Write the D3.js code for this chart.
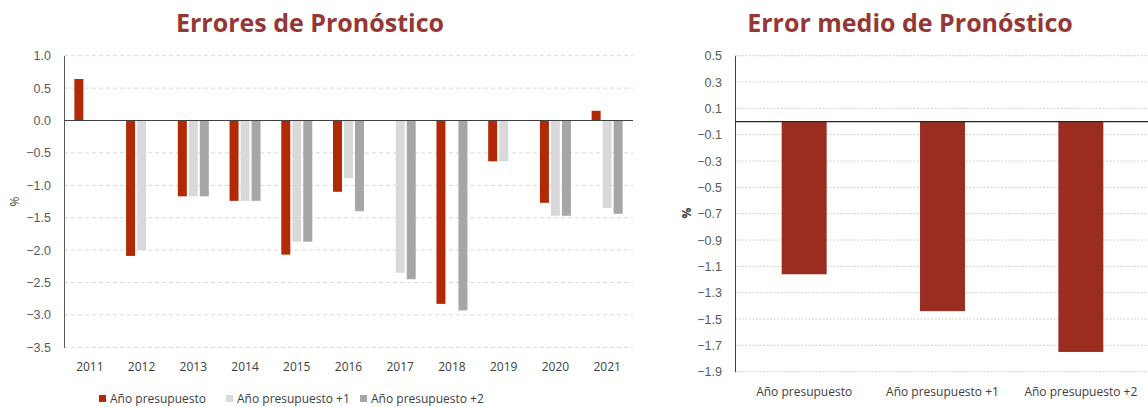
<!DOCTYPE html>
<html lang="es">
<head>
  <meta charset="UTF-8">
  <title>Errores de Pronóstico</title>
  <script src="https://cdn.jsdelivr.net/npm/d3@7"></script>
  <style>
    html, body { margin: 0; padding: 0; background: #ffffff; }
    svg { display: block; font-family: "Segoe UI", "Open Sans", sans-serif; }
    .title { fill: #953735; font-weight: bold; font-size: 25px; text-anchor: middle; }
    .tick text { fill: #595959; font-size: 12.5px; }
    .lbl { fill: #404040; font-size: 12px; }
  </style>
</head>
<body>
  <svg id="chart" width="1148" height="407"></svg>

  <script>
    // left chart data
    const years = ['2011', '2012', '2013', '2014', '2015', '2016', '2017', '2018', '2019', '2020', '2021'];
    const seriesNames = ['Año presupuesto', 'Año presupuesto +1', 'Año presupuesto +2'];
    const anoPresupuesto = [0.64, -2.09, -1.17, -1.24, -2.07, -1.10, null, -2.83, -0.63, -1.27, 0.15];
    const anoMas1 = [null, -2.00, -1.17, -1.24, -1.87, -0.89, -2.35, null, -0.63, -1.47, -1.35];
    const anoMas2 = [null, null, -1.17, -1.24, -1.87, -1.40, -2.45, -2.93, null, -1.47, -1.44];
    const leftTicks = [1.0, 0.5, 0.0, -0.5, -1.0, -1.5, -2.0, -2.5, -3.0, -3.5];

    // right chart data
    const horizons = ['Año presupuesto', 'Año presupuesto +1', 'Año presupuesto +2'];
    const errorMedio = [-1.16, -1.44, -1.75];
    const rightTicks = [0.5, 0.3, 0.1, -0.1, -0.3, -0.5, -0.7, -0.9, -1.1, -1.3, -1.5, -1.7, -1.9];

    const colors = ['#b22a05', '#d9d9d9', '#a6a6a6'];
    const svg = d3.select('#chart');
    const fmt = d3.format('.1f');

    // ---------- left: Errores de Pronóstico ----------
    const left = { x0: 64, x1: 633, y0: 55.7, y1: 347.3 };
    const x = d3.scaleBand().domain(years).range([left.x0, left.x1]);
    const xs = d3.scaleBand().domain(seriesNames)
      .range([x.bandwidth() / 2 - 15.5, x.bandwidth() / 2 + 15.5])
      .paddingInner(2 / 11);
    const y = d3.scaleLinear().domain([-3.5, 1.0]).range([left.y1, left.y0]);

    svg.append('text').attr('class', 'title')
      .attr('x', 310).attr('y', 32).text('Errores de Pronóstico');

    // grid
    svg.append('g').selectAll('line').data(leftTicks).enter().append('line')
      .attr('x1', left.x0).attr('x2', left.x1)
      .attr('y1', d => y(d)).attr('y2', d => y(d))
      .attr('stroke', '#d9d9d9').attr('stroke-dasharray', '4,3');

    const yAxisL = svg.append('g').attr('transform', `translate(${left.x0},0)`)
      .call(d3.axisLeft(y).tickValues(leftTicks).tickFormat(fmt).tickSize(0).tickPadding(13));
    yAxisL.select('.domain').attr('stroke', '#595959');

    const table = years.map((yr, i) => ({ year: yr, vals: [anoPresupuesto[i], anoMas1[i], anoMas2[i]] }));
    const groups = svg.append('g').selectAll('g').data(table).enter().append('g')
      .attr('transform', d => `translate(${x(d.year)},0)`);
    groups.selectAll('rect')
      .data(d => d.vals.map((v, k) => ({ name: seriesNames[k], v: v, k: k })).filter(e => e.v !== null))
      .enter().append('rect')
      .attr('x', d => xs(d.name))
      .attr('width', xs.bandwidth())
      .attr('y', d => y(Math.max(0, d.v)))
      .attr('height', d => Math.abs(y(d.v) - y(0)))
      .attr('fill', d => colors[d.k]);

    svg.append('line').attr('x1', left.x0).attr('x2', left.x1)
      .attr('y1', y(0)).attr('y2', y(0)).attr('stroke', '#404040').attr('stroke-width', 1.2);

    svg.append('g').selectAll('text').data(years).enter().append('text')
      .attr('class', 'lbl').attr('text-anchor', 'middle')
      .attr('x', d => x(d) + x.bandwidth() / 2).attr('y', 371)
      .text(d => d);

    svg.append('text').attr('class', 'lbl')
      .attr('transform', `translate(19,${(left.y0 + left.y1) / 2}) rotate(-90)`)
      .attr('text-anchor', 'middle').text('%');

    // legend
    const legendX = [99, 226, 360];
    const legend = svg.append('g').selectAll('g').data(seriesNames).enter().append('g')
      .attr('transform', (d, i) => `translate(${legendX[i]},395)`);
    legend.append('rect').attr('width', 7).attr('height', 7).attr('fill', (d, i) => colors[i]);
    legend.append('text').attr('class', 'lbl').attr('x', 11).attr('y', 8).text(d => d);

    // ---------- right: Error medio de Pronóstico ----------
    const right = { x0: 735, x1: 1150, y0: 55.7, y1: 371.7 };
    const x2 = d3.scaleBand().domain(horizons).range([right.x0, right.x1])
      .paddingInner(0.675).paddingOuter(0.3375);
    const y2 = d3.scaleLinear().domain([-1.9, 0.5]).range([right.y1, right.y0]);

    svg.append('text').attr('class', 'title')
      .attr('x', 910).attr('y', 32).text('Error medio de Pronóstico');

    svg.append('g').selectAll('line').data(rightTicks).enter().append('line')
      .attr('x1', right.x0).attr('x2', 1148)
      .attr('y1', d => y2(d)).attr('y2', d => y2(d))
      .attr('stroke', '#d0d0d0').attr('stroke-dasharray', '2,1.5');

    const yAxisR = svg.append('g').attr('transform', `translate(${right.x0},0)`)
      .call(d3.axisLeft(y2).tickValues(rightTicks).tickFormat(fmt).tickSize(0).tickPadding(13));
    yAxisR.select('.domain').attr('stroke', '#404040');

    svg.append('g').selectAll('rect').data(horizons).enter().append('rect')
      .attr('x', d => x2(d))
      .attr('width', x2.bandwidth())
      .attr('y', y2(0))
      .attr('height', (d, i) => y2(errorMedio[i]) - y2(0))
      .attr('fill', '#9b2c20');

    svg.append('line').attr('x1', right.x0).attr('x2', 1148)
      .attr('y1', y2(0)).attr('y2', y2(0)).attr('stroke', '#262626').attr('stroke-width', 1.2);

    svg.append('g').selectAll('text').data(horizons).enter().append('text')
      .attr('class', 'lbl').attr('text-anchor', 'middle').attr('font-size', '12.7px')
      .attr('x', d => x2(d) + x2.bandwidth() / 2).attr('y', 396)
      .text(d => d);

    svg.append('text').attr('class', 'lbl').attr('font-weight', 'bold').attr('font-size', '13px')
      .attr('transform', `translate(691,213) rotate(-90)`)
      .attr('text-anchor', 'middle').text('%');
  </script>
</body>
</html>
